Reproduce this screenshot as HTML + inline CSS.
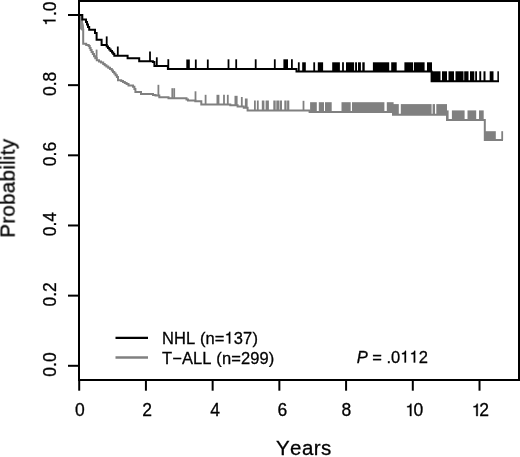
<!DOCTYPE html>
<html><head><meta charset="utf-8"><style>
html,body{margin:0;padding:0;background:#fff;font-family:"Liberation Sans",sans-serif;width:520px;height:457px;overflow:hidden;}
svg{display:block;}
.h{fill-opacity:0;stroke-opacity:0;}
</style></head><body>
<svg width="520" height="457" viewBox="0 0 520 457">
<rect width="520" height="457" fill="#fff"/>
<path d="M79,15 L81,17 L82,22 L83.2,29 V43.8 H86.2 V44.9 H88.7 V46 H89.7 V48 H90.6 V50 H91.6 V52 H92.8 V54 H94 V56.2 H95.3 V58.3 H96.8 V60.2 H99 V61.4 H101 V62.6 H103.2 V64 H104.7 V65.3 H106.4 V66.6 H108.2 V67.8 H110 V69 H111.8 V70.4 H113 V72 H114.3 V73.6 H115.6 V75.3 H116.9 V77 H118 V80.2 H121.2 V81 H123 V82 H124.8 V83 H126.6 V84 H128.5 V85.4 H133 V86.7 H134.4 V89 H135.4 V92 H141 V94 H153 V94.9 H155.5 V95.6 H159.3 V97.2 H168.5 V98.3 H186.5 V99.4 H188 V100.6 H195.3 V101.3 H201.3 V104.6 H230.3 V105.3 H237.6 V106.4 H243.8 V107.8 H247.6 V110.4 H309.6 V112 H393 V114.8 H447 V120.1 H484.8 V140 H503" fill="none" stroke="#808080" stroke-width="2"/><path d="M80,15 L81.8,16.3 L82.7,21 L83.6,25.5 L84.2,30 L82.2,31 L80,29 Z" fill="#8c8c8c"/><g stroke="#808080" stroke-width="1.8"><line x1="96.6" y1="58.3" x2="96.6" y2="49.6"/><line x1="158.4" y1="95.6" x2="158.4" y2="84.8"/><line x1="172.3" y1="98.3" x2="172.3" y2="88.2"/><line x1="174.2" y1="98.3" x2="174.2" y2="88.2"/><line x1="195.5" y1="100.6" x2="195.5" y2="91.3"/><line x1="205.6" y1="104.6" x2="205.6" y2="94.8"/><line x1="224" y1="104.6" x2="224" y2="94.8"/><line x1="227.8" y1="104.6" x2="227.8" y2="94.8"/><line x1="241.8" y1="106.4" x2="241.8" y2="97"/><line x1="254.9" y1="110.4" x2="254.9" y2="100.5"/><line x1="257.8" y1="110.4" x2="257.8" y2="100.5"/><line x1="303.5" y1="110.4" x2="303.5" y2="100.8"/><line x1="447.7" y1="120.1" x2="447.7" y2="110.4"/><line x1="502.2" y1="140" x2="502.2" y2="131.2"/></g><g fill="#808080"><rect x="216.5" y="94.8" width="2.90" height="9.80"/><rect x="234.5" y="95.8" width="3.10" height="9.50"/><rect x="244.9" y="98.5" width="2.70" height="9.30"/><rect x="261.8" y="100.5" width="2.60" height="9.90"/><rect x="265.6" y="100.5" width="3.30" height="9.90"/><rect x="273.3" y="100.5" width="2.40" height="9.90"/><rect x="276.3" y="100.5" width="2.70" height="9.90"/><rect x="279.5" y="100.5" width="2.50" height="9.90"/><rect x="284.3" y="100.5" width="2.30" height="9.90"/><rect x="287.1" y="100.5" width="2.20" height="9.90"/><rect x="310.1" y="102.2" width="6.70" height="9.80"/><rect x="318.8" y="102.2" width="5.20" height="9.80"/><rect x="325" y="102.2" width="6.70" height="9.80"/><rect x="341.5" y="102.2" width="9.20" height="9.80"/><rect x="352" y="102.2" width="32.40" height="9.80"/><rect x="386.8" y="102.2" width="6.80" height="9.80"/><rect x="393" y="104.1" width="5.80" height="10.70"/><rect x="400.8" y="104.1" width="30.80" height="10.70"/><rect x="432.6" y="104.1" width="2.40" height="10.70"/><rect x="436.3" y="104.1" width="10.70" height="10.70"/><rect x="451.9" y="110.4" width="12.70" height="9.70"/><rect x="467.5" y="110.4" width="8.70" height="9.70"/><rect x="479" y="110.4" width="4.70" height="9.70"/><rect x="484.8" y="131.2" width="11.00" height="8.80"/></g><path d="M79,15 H82.3 V19.5 H86 V22 H87 V24.5 H88 V27 H89.2 V29.7 H95 V33 H96.6 V39.8 H101.6 V45 H106.7 V46.5 H108 V48 H109.3 V49.5 H110.6 V51 H112 V52.5 H113.3 V54 H114.3 V55.7 H127.6 V58.2 H139.2 V61.2 H152.9 V62 H154.4 V66 H167.9 V68.9 H296.5 V71.6 H431.6 V81.3 H499" fill="none" stroke="#000" stroke-width="2"/><g stroke="#000" stroke-width="1.8"><line x1="106.7" y1="45" x2="106.7" y2="36.4"/><line x1="117.8" y1="55.7" x2="117.8" y2="46.5"/><line x1="150" y1="61.2" x2="150" y2="51.5"/><line x1="156.8" y1="66" x2="156.8" y2="57.3"/><line x1="168.3" y1="68.9" x2="168.3" y2="59.2"/><line x1="187.2" y1="68.9" x2="187.2" y2="59.5"/><line x1="188.9" y1="68.9" x2="188.9" y2="59.5"/><line x1="195.8" y1="68.9" x2="195.8" y2="59.5"/><line x1="207.8" y1="68.9" x2="207.8" y2="59.5"/><line x1="228.5" y1="68.9" x2="228.5" y2="59.3"/><line x1="236.2" y1="68.9" x2="236.2" y2="59.3"/><line x1="255.7" y1="68.9" x2="255.7" y2="59.3"/><line x1="274.8" y1="68.9" x2="274.8" y2="59.3"/><line x1="291.9" y1="68.9" x2="291.9" y2="59.3"/><line x1="298.8" y1="71.6" x2="298.8" y2="62.3"/><line x1="314.2" y1="71.6" x2="314.2" y2="62.3"/><line x1="343" y1="71.6" x2="343" y2="62.3"/></g><g fill="#000"><rect x="283.4" y="59.3" width="4.60" height="9.60"/><rect x="302.2" y="62.3" width="3.60" height="9.30"/><rect x="317.8" y="62.3" width="5.30" height="9.30"/><rect x="332.2" y="62.3" width="7.70" height="9.30"/><rect x="346" y="62.3" width="8.10" height="9.30"/><rect x="355.1" y="62.3" width="1.90" height="9.30"/><rect x="358" y="62.3" width="2.90" height="9.30"/><rect x="362.3" y="62.3" width="2.40" height="9.30"/><rect x="372.9" y="62.3" width="16.30" height="9.30"/><rect x="391.2" y="62.3" width="5.50" height="9.30"/><rect x="404.4" y="62.3" width="8.70" height="9.30"/><rect x="414" y="62.3" width="10.60" height="9.30"/><rect x="427" y="62.3" width="5.00" height="9.30"/><rect x="431.1" y="71.3" width="9.40" height="10.00"/><rect x="442" y="71.3" width="5.00" height="10.00"/><rect x="448.5" y="71.3" width="5.50" height="10.00"/><rect x="455.5" y="71.3" width="8.00" height="10.00"/><rect x="464.2" y="71.3" width="4.30" height="10.00"/><rect x="470" y="71.3" width="4.30" height="10.00"/><rect x="475.2" y="71.3" width="1.80" height="10.00"/><rect x="479.3" y="71.3" width="1.90" height="10.00"/><rect x="483.5" y="71.3" width="2.00" height="10.00"/><rect x="489.7" y="71.3" width="3.80" height="10.00"/><rect x="497.4" y="71.3" width="1.50" height="10.00"/></g>
<g stroke="#000" stroke-width="2" fill="none"><rect x="79" y="1" width="440" height="379"/><line x1="68" y1="365.80" x2="79" y2="365.80"/><line x1="68" y1="295.64" x2="79" y2="295.64"/><line x1="68" y1="225.48" x2="79" y2="225.48"/><line x1="68" y1="155.32" x2="79" y2="155.32"/><line x1="68" y1="85.16" x2="79" y2="85.16"/><line x1="68" y1="15.00" x2="79" y2="15.00"/><line x1="79.20" y1="380" x2="79.20" y2="390.7"/><line x1="145.92" y1="380" x2="145.92" y2="390.7"/><line x1="212.64" y1="380" x2="212.64" y2="390.7"/><line x1="279.36" y1="380" x2="279.36" y2="390.7"/><line x1="346.08" y1="380" x2="346.08" y2="390.7"/><line x1="412.80" y1="380" x2="412.80" y2="390.7"/><line x1="479.52" y1="380" x2="479.52" y2="390.7"/></g>
<line x1="115.5" y1="337.9" x2="148" y2="337.9" stroke="#000" stroke-width="2.4"/><line x1="115.5" y1="357.5" x2="148" y2="357.5" stroke="#808080" stroke-width="2.4"/>
<g fill="#000" stroke="#000" stroke-width="0.3" font-family="Liberation Sans, sans-serif" style="font-kerning:none" opacity="0.999"><text x="74.94" y="416.10"><tspan font-size="17.5">0</tspan></text><text x="142.28" y="416.10"><tspan font-size="17.5">2</tspan></text><text x="210.16" y="416.10"><tspan font-size="17.5">4</tspan></text><text x="277.44" y="416.10"><tspan font-size="17.5">6</tspan></text><text x="341.54" y="416.10"><tspan font-size="17.5">8</tspan></text><text x="405.35" y="416.10"><tspan font-size="17.5"><tspan class="h">1</tspan></tspan></text><path d="M411.42 416.1V403.69H410.4C409.86 405.6 409.51 405.86 407.13 406.16V407.26H409.88V416.1Z"/><text x="413.59" y="416.10"><tspan font-size="17.5">0</tspan></text><text x="471.70" y="416.10"><tspan font-size="17.5"><tspan class="h">1</tspan></tspan></text><path d="M477.77 416.1V403.69H476.75C476.21 405.6 475.86 405.86 473.48 406.16V407.26H476.23V416.1Z"/><text x="479.33" y="416.10"><tspan font-size="17.5">2</tspan></text><g transform="translate(55.50,364.50) rotate(-90)"><text x="-12.16" y="0.00"><tspan font-size="17.5">0.0</tspan></text></g><g transform="translate(55.50,294.34) rotate(-90)"><text x="-12.16" y="0.00"><tspan font-size="17.5">0.2</tspan></text></g><g transform="translate(55.50,224.18) rotate(-90)"><text x="-12.16" y="0.00"><tspan font-size="17.5">0.4</tspan></text></g><g transform="translate(55.50,154.02) rotate(-90)"><text x="-12.16" y="0.00"><tspan font-size="17.5">0.6</tspan></text></g><g transform="translate(55.50,83.86) rotate(-90)"><text x="-12.16" y="0.00"><tspan font-size="17.5">0.8</tspan></text></g><g transform="translate(55.50,13.70) rotate(-90)"><text x="-12.16" y="0.00"><tspan font-size="17.5"><tspan class="h">1</tspan>.0</tspan></text><path d="M-6.09 0V-12.41H-7.11C-7.65 -10.5 -8 -10.24 -10.38 -9.94V-8.84H-7.63V0Z"/></g><text x="276.03" y="455.40" letter-spacing="0.4"><tspan font-size="20.5">Years</tspan></text><g transform="translate(14.60,237.67) rotate(-90)"><text x="0.00" y="0.00" letter-spacing="0.3"><tspan font-size="20.5">Probability</tspan></text></g><text x="161.95" y="343.50" letter-spacing="0.1"><tspan font-size="16.5">NHL (n=<tspan class="h">1</tspan>37)</tspan></text><path d="M230.26 343.5V331.8H229.31C228.79 333.6 228.46 333.85 226.22 334.13V335.17H228.81V343.5Z"/><text x="162.05" y="363.50" letter-spacing="0.1"><tspan font-size="16.5">T−ALL (n=299)</tspan></text><text x="356.72" y="362.50"><tspan font-size="16.5" font-style="italic">P</tspan><tspan font-size="16.5"> = .0<tspan class="h">1</tspan><tspan class="h">1</tspan>2</tspan></text><path d="M406.03 362.5V350.8H405.07C404.56 352.6 404.23 352.85 401.98 353.13V354.17H404.57V362.5ZM415.2 362.5V350.8H414.24C413.73 352.6 413.4 352.85 411.16 353.13V354.17H413.75V362.5Z"/></g>
</svg>
</body></html>
